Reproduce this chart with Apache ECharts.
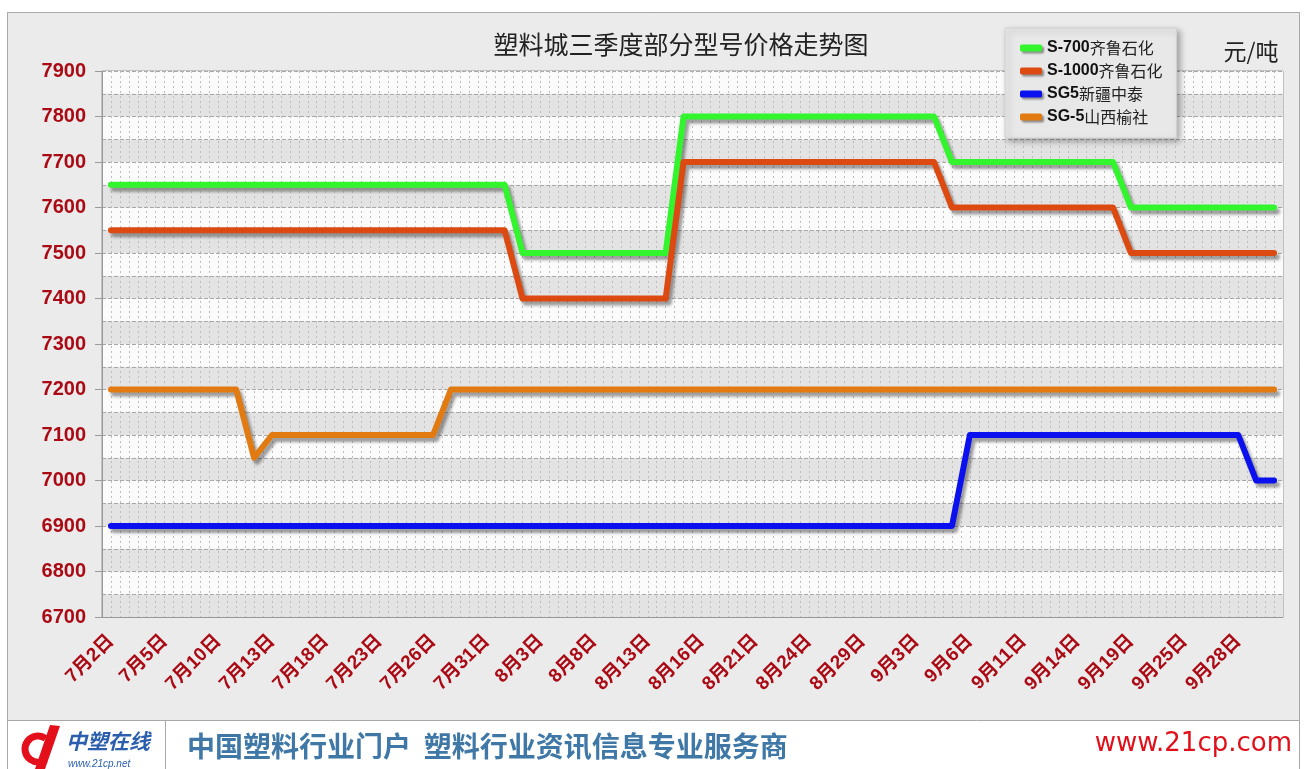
<!DOCTYPE html>
<html>
<head>
<meta charset="utf-8">
<title>塑料城三季度部分型号价格走势图</title>
<script src="https://cdn.jsdelivr.net/npm/echarts@6/dist/echarts.min.js"></script>
<style>
  html, body { margin: 0; padding: 0; background: #fff; }
  #chart_price { width: 1304px; height: 769px; }
</style>
</head>
<body>
<div id="chart_price"></div>
<script>
// 日期（交易日）
var dates = [
    '7月2日', '7月3日', '7月4日', '7月5日', '7月6日', '7月9日', '7月10日', '7月11日', '7月12日', '7月13日',
    '7月16日', '7月17日', '7月18日', '7月19日', '7月20日', '7月23日', '7月24日', '7月25日', '7月26日', '7月27日',
    '7月30日', '7月31日', '8月1日', '8月2日', '8月3日', '8月6日', '8月7日', '8月8日', '8月9日', '8月10日',
    '8月13日', '8月14日', '8月15日', '8月16日', '8月17日', '8月20日', '8月21日', '8月22日', '8月23日', '8月24日',
    '8月27日', '8月28日', '8月29日', '8月30日', '8月31日', '9月3日', '9月4日', '9月5日', '9月6日', '9月7日',
    '9月10日', '9月11日', '9月12日', '9月13日', '9月14日', '9月17日', '9月18日', '9月19日', '9月20日', '9月21日',
    '9月25日', '9月26日', '9月27日', '9月28日', '9月29日', '9月30日'
];

// S-700齐鲁石化
var s700 = [
    7650, 7650, 7650, 7650, 7650, 7650, 7650, 7650, 7650, 7650,
    7650, 7650, 7650, 7650, 7650, 7650, 7650, 7650, 7650, 7650,
    7650, 7650, 7650, 7500, 7500, 7500, 7500, 7500, 7500, 7500,
    7500, 7500, 7800, 7800, 7800, 7800, 7800, 7800, 7800, 7800,
    7800, 7800, 7800, 7800, 7800, 7800, 7800, 7700, 7700, 7700,
    7700, 7700, 7700, 7700, 7700, 7700, 7700, 7600, 7600, 7600,
    7600, 7600, 7600, 7600, 7600, 7600
];

// S-1000齐鲁石化
var s1000 = [
    7550, 7550, 7550, 7550, 7550, 7550, 7550, 7550, 7550, 7550,
    7550, 7550, 7550, 7550, 7550, 7550, 7550, 7550, 7550, 7550,
    7550, 7550, 7550, 7400, 7400, 7400, 7400, 7400, 7400, 7400,
    7400, 7400, 7700, 7700, 7700, 7700, 7700, 7700, 7700, 7700,
    7700, 7700, 7700, 7700, 7700, 7700, 7700, 7600, 7600, 7600,
    7600, 7600, 7600, 7600, 7600, 7600, 7600, 7500, 7500, 7500,
    7500, 7500, 7500, 7500, 7500, 7500
];

// SG5新疆中泰
var sg5_xj = [
    6900, 6900, 6900, 6900, 6900, 6900, 6900, 6900, 6900, 6900,
    6900, 6900, 6900, 6900, 6900, 6900, 6900, 6900, 6900, 6900,
    6900, 6900, 6900, 6900, 6900, 6900, 6900, 6900, 6900, 6900,
    6900, 6900, 6900, 6900, 6900, 6900, 6900, 6900, 6900, 6900,
    6900, 6900, 6900, 6900, 6900, 6900, 6900, 6900, 7100, 7100,
    7100, 7100, 7100, 7100, 7100, 7100, 7100, 7100, 7100, 7100,
    7100, 7100, 7100, 7100, 7000, 7000
];

// SG-5山西榆社
var sg5_sx = [
    7200, 7200, 7200, 7200, 7200, 7200, 7200, 7200, 7050, 7100,
    7100, 7100, 7100, 7100, 7100, 7100, 7100, 7100, 7100, 7200,
    7200, 7200, 7200, 7200, 7200, 7200, 7200, 7200, 7200, 7200,
    7200, 7200, 7200, 7200, 7200, 7200, 7200, 7200, 7200, 7200,
    7200, 7200, 7200, 7200, 7200, 7200, 7200, 7200, 7200, 7200,
    7200, 7200, 7200, 7200, 7200, 7200, 7200, 7200, 7200, 7200,
    7200, 7200, 7200, 7200, 7200, 7200
];

var seriesNames = ['S-700齐鲁石化', 'S-1000齐鲁石化', 'SG5新疆中泰', 'SG-5山西榆社'];
var seriesColors = ['#33f52e', '#dc4a12', '#0a10ee', '#e27a12'];
var seriesData = [s700, s1000, sg5_xj, sg5_sx];

var labelRed = '#aa0a14';

var chart_price = echarts.init(document.getElementById('chart_price'));

var series = seriesNames.map(function (name, i) {
    return {
        name: name,
        type: 'line',
        xAxisIndex: 0,
        yAxisIndex: 0,
        symbol: 'none',
        data: seriesData[i],
        z: 5,
        lineStyle: {
            color: seriesColors[i],
            width: 6,
            cap: 'round',
            join: 'round',
            shadowColor: 'rgba(40,40,40,0.45)',
            shadowBlur: 3,
            shadowOffsetX: 3,
            shadowOffsetY: 4
        },
        itemStyle: { color: seriesColors[i] }
    };
});

var chart_price_option = {
    backgroundColor: '#ffffff',
    animation: false,
    textStyle: { fontFamily: 'Liberation Sans, Noto Sans CJK SC, sans-serif' },
    title: [{
        text: '塑料城三季度部分型号价格走势图',
        left: 676,
        top: 27,
        textAlign: 'center',
        textStyle: { fontSize: 25, fontWeight: 'normal', color: '#222', fontFamily: 'Noto Sans CJK SC' }
    }, {
        text: '元/吨',
        left: 1246,
        top: 35,
        textAlign: 'center',
        textStyle: { fontSize: 23, fontWeight: 'normal', color: '#222', fontFamily: 'Noto Sans CJK SC' }
    }],
    legend: {
        orient: 'vertical',
        left: 1005,
        top: 28,
        padding: [12, 14, 13, 15],
        itemGap: 7,
        itemWidth: 22,
        itemHeight: 7,
        icon: 'roundRect',
        backgroundColor: '#e8e8e8',
        borderColor: '#d2d2d2',
        borderWidth: 1,
        shadowColor: 'rgba(0,0,0,0.3)',
        shadowBlur: 6,
        shadowOffsetX: 3,
        shadowOffsetY: 3,
        itemStyle: {
            shadowColor: 'rgba(0,0,0,0.4)',
            shadowBlur: 2,
            shadowOffsetX: 2,
            shadowOffsetY: 2
        },
        data: seriesNames,
        formatter: function (name) {
            var m = name.match(/^([A-Za-z0-9\-]+)(.*)$/);
            return '{b|' + m[1] + '}{n|' + m[2] + '}';
        },
        textStyle: {
            rich: {
                b: { fontSize: 16, fontWeight: 'bold', color: '#111', fontFamily: 'Liberation Sans', lineHeight: 16 },
                n: { fontSize: 16, color: '#222', fontFamily: 'Noto Sans CJK SC', lineHeight: 16 }
            }
        }
    },
    grid: {
        left: 102,
        right: 21,
        top: 71,
        bottom: 152,
        show: true,
        borderColor: '#9a9a9a',
        borderWidth: 1,
        backgroundColor: 'transparent'
    },
    xAxis: [{
        type: 'category',
        data: dates,
        boundaryGap: true,
        axisLine: { lineStyle: { color: '#999', width: 1 } },
        axisTick: { interval: 2, length: 6, lineStyle: { color: '#999' } },
        axisLabel: {
            interval: 2,
            rotate: 45,
            margin: 21,
            color: labelRed,
            fontSize: 19,
            fontWeight: 'bold',
            fontFamily: 'Liberation Sans, Noto Sans CJK SC'
        },
        splitLine: { show: false }
    }, {
        // 细点状竖向网格
        type: 'value',
        position: 'top',
        min: 0,
        max: 132,
        interval: 1,
        axisLine: { show: false },
        axisTick: { show: false },
        axisLabel: { show: false },
        splitLine: { show: true, lineStyle: { color: '#bdbdbd', type: [2, 3], width: 1 } }
    }],
    yAxis: [{
        type: 'value',
        min: 6700,
        max: 7900,
        interval: 100,
        axisLine: { show: true, lineStyle: { color: '#999' } },
        axisTick: { show: true, length: 7, lineStyle: { color: '#999' } },
        axisLabel: {
            margin: 16,
            color: labelRed,
            fontSize: 20,
            fontWeight: 'bold',
            fontFamily: 'Liberation Sans',
            formatter: function (v) { return String(v); }
        },
        splitLine: { show: false }
    }, {
        // 横向条带与虚线
        type: 'value',
        position: 'right',
        min: 6700,
        max: 7900,
        interval: 50,
        axisLine: { show: false },
        axisTick: { show: false },
        axisLabel: { show: false },
        splitLine: { show: true, lineStyle: { color: '#a8a8a8', type: [4, 2], width: 1 } },
        splitArea: { show: true, areaStyle: { color: ['#e3e3e3', '#fbfbfb'] } }
    }],
    graphic: [{
        type: 'rect',
        z: -100,
        silent: true,
        shape: { x: 7.5, y: 12.5, width: 1292, height: 770 },
        style: { fill: '#ffffff', stroke: '#a8a8a8', lineWidth: 1 }
    }, {
        type: 'rect',
        z: -99,
        silent: true,
        shape: { x: 7.5, y: 12.5, width: 1292, height: 708 },
        style: { fill: '#ebebec', stroke: '#a8a8a8', lineWidth: 1 }
    }, {
        type: 'line',
        z: -98,
        silent: true,
        shape: { x1: 165.5, y1: 721, x2: 165.5, y2: 769 },
        style: { stroke: '#a8a8a8', lineWidth: 1 }
    }, {
        // 中塑在线标志
        type: 'arc',
        silent: true,
        shape: { cx: 38, cy: 749, r: 13, startAngle: -Math.PI * 0.3, endAngle: Math.PI * 0.3, clockwise: false },
        style: { stroke: '#e3101b', lineWidth: 7, fill: null }
    }, {
        type: 'polygon',
        silent: true,
        shape: { points: [[50, 725], [60, 726], [45, 769], [35, 769]] },
        style: { fill: '#e3101b' }
    }, {
        type: 'text',
        silent: true,
        left: 66,
        top: 731,
        style: { text: '中塑在线', fill: '#2b5fae', font: 'italic bold 21px "Noto Sans CJK SC"' }
    }, {
        type: 'text',
        silent: true,
        left: 68,
        top: 759,
        style: { text: 'www.21cp.net', fill: '#2b5fae', font: 'italic 10px "Liberation Sans"' }
    }, {
        type: 'text',
        silent: true,
        left: 187,
        top: 732,
        style: { text: '中国塑料行业门户  塑料行业资讯信息专业服务商', fill: '#3f78a6', font: 'bold 28px "Noto Sans CJK SC"' }
    }, {
        type: 'text',
        silent: true,
        right: 12,
        top: 731,
        style: { text: 'www.21cp.com', fill: '#e0101a', font: '26px "DejaVu Sans"' }
    }],
    series: series
};

chart_price.setOption(chart_price_option);
</script>
</body>
</html>
